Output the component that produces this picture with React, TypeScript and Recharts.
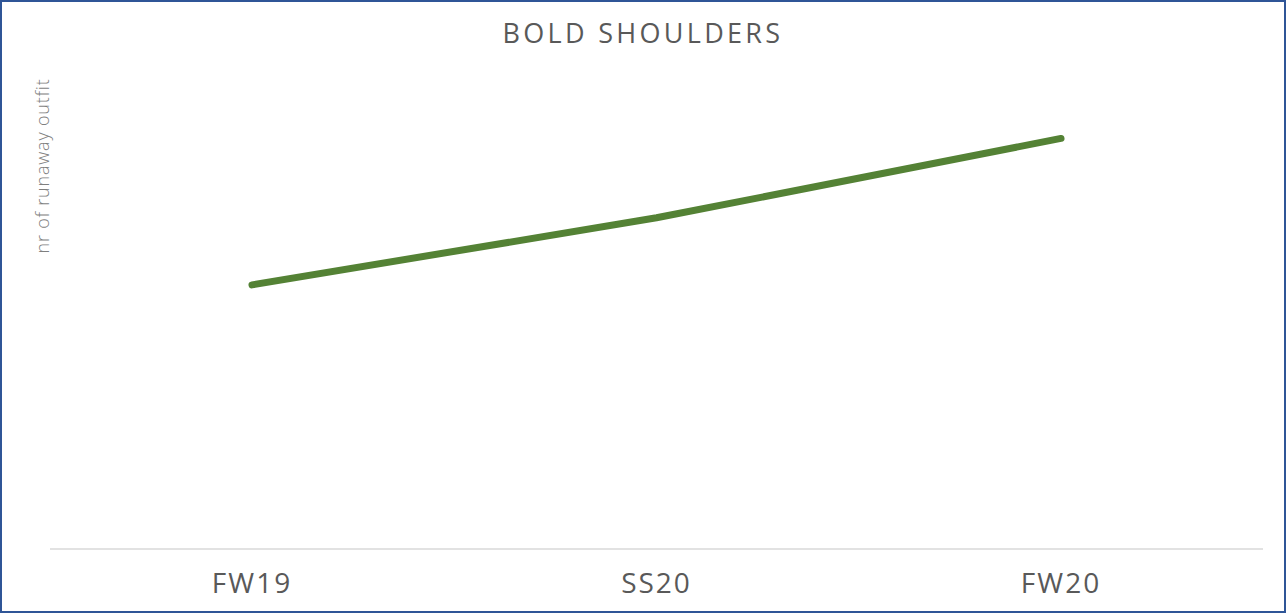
import { LineChart, Line, XAxis, YAxis } from 'recharts'

const seasons = ['FW19', 'SS20', 'FW20']
const outfitCounts = [19.3, 24.2, 30]

const data = seasons.map((season, i) => ({ season, outfits: outfitCounts[i] }))

const FONT = '"Open Sans", "DejaVu Sans", sans-serif'

export default function App() {
  return (
    <div
      style={{
        position: 'fixed',
        left: 0,
        top: 0,
        width: 1286,
        height: 613,
        boxSizing: 'border-box',
        border: '2px solid #2F5597',
        background: '#fff',
        fontFamily: FONT,
      }}
    >
      <div
        style={{
          position: 'absolute',
          left: 0,
          top: 12,
          width: 1282,
          textAlign: 'center',
          fontSize: 27,
          color: '#595959',
          letterSpacing: 3.3,
        }}
      >
        BOLD SHOULDERS
      </div>
      <div
        style={{
          position: 'absolute',
          left: 40,
          top: 164,
          transform: 'translate(-50%, -50%) rotate(-90deg)',
          whiteSpace: 'nowrap',
          fontSize: 18,
          color: '#7f7f7f',
          fontWeight: 300,
          letterSpacing: 0.8,
        }}
      >
        nr of runaway outfit
      </div>
      <div style={{ position: 'absolute', left: -2, top: -2 }}>
        <LineChart
          width={1286}
          height={613}
          data={data}
          margin={{ top: 70, right: 23, bottom: 24, left: 50 }}
        >
          <XAxis
            dataKey="season"
            height={40}
            padding={{ left: 202, right: 202 }}
            axisLine={{ stroke: '#d9d9d9', strokeWidth: 1.5 }}
            tickLine={false}
            tickSize={0}
            tickMargin={24}
            tick={{ fill: '#595959', fontSize: 28, fontFamily: FONT, letterSpacing: 2 }}
          />
          <YAxis hide domain={[0, 35]} />
          <Line
            type="linear"
            dataKey="outfits"
            stroke="#548235"
            strokeWidth={7}
            strokeLinecap="round"
            strokeLinejoin="round"
            dot={false}
            activeDot={false}
            isAnimationActive={false}
          />
        </LineChart>
      </div>
    </div>
  )
}
